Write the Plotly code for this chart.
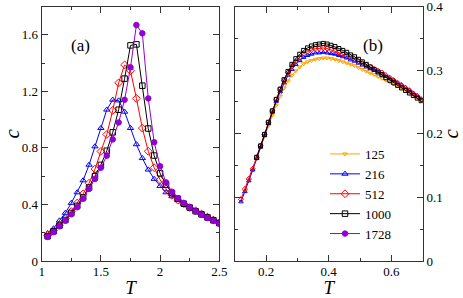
import plotly.graph_objects as go

# ---------------- panel (a) data ----------------
T_a = [1.05, 1.10, 1.15, 1.20, 1.25, 1.30, 1.35, 1.40, 1.45, 1.50,
       1.55, 1.60, 1.65, 1.70, 1.75, 1.80, 1.85, 1.90, 1.95, 2.00,
       2.05, 2.10, 2.15, 2.20, 2.25, 2.30, 2.35, 2.40, 2.45, 2.50]
c_a_216 = [0.196, 0.230, 0.286, 0.340, 0.410, 0.485, 0.570, 0.680, 0.810, 0.940,
           1.070, 1.140, 1.135, 1.055, 0.940, 0.825, 0.727, 0.646, 0.580, 0.530,
           0.485, 0.457, 0.430, 0.405, 0.380, 0.357, 0.335, 0.315, 0.295, 0.275]
c_a_512 = [0.180, 0.215, 0.255, 0.300, 0.350, 0.410, 0.475, 0.550, 0.650, 0.775,
           0.895, 1.065, 1.260, 1.387, 1.345, 1.150, 0.940, 0.776, 0.660, 0.575,
           0.510, 0.465, 0.430, 0.405, 0.378, 0.355, 0.332, 0.310, 0.290, 0.270]
c_a_1000 = [0.175, 0.210, 0.250, 0.290, 0.340, 0.390, 0.450, 0.520, 0.600, 0.680,
            0.780, 0.910, 1.070, 1.290, 1.525, 1.532, 1.240, 0.937, 0.746, 0.620,
            0.540, 0.480, 0.440, 0.405, 0.378, 0.352, 0.330, 0.308, 0.288, 0.268]
c_a_1728 = [0.170, 0.205, 0.245, 0.285, 0.330, 0.380, 0.440, 0.510, 0.580, 0.660,
            0.745, 0.860, 0.980, 1.140, 1.370, 1.669, 1.610, 1.150, 0.840, 0.670,
            0.556, 0.490, 0.445, 0.410, 0.380, 0.352, 0.328, 0.305, 0.285, 0.265]

# ---------------- panel (b) data ----------------
T_b = [0.12, 0.1325, 0.145, 0.1575, 0.17, 0.1825, 0.195, 0.2075, 0.22, 0.2325,
       0.245, 0.2575, 0.27, 0.2825, 0.295, 0.3075, 0.32, 0.3325, 0.345, 0.3575,
       0.37, 0.3825, 0.395, 0.4075, 0.42, 0.4325, 0.445, 0.4575, 0.47, 0.4825,
       0.495, 0.5075, 0.52, 0.5325, 0.545, 0.5575, 0.57, 0.5825, 0.595, 0.6075,
       0.62, 0.6325, 0.645, 0.6575, 0.67, 0.6825, 0.695]
c_b_125 = [None, 0.110, 0.127, 0.143, 0.160, 0.178, 0.196, 0.213, 0.229, 0.245,
           0.259, 0.272, 0.283, 0.292, 0.299, 0.305, 0.310, 0.313, 0.315, 0.317,
           0.318, 0.319, 0.319, 0.318, 0.317, 0.315, 0.313, 0.311, 0.309, 0.307,
           0.304, 0.301, 0.298, 0.295, 0.293, 0.290, 0.287, 0.284, 0.281, 0.278,
           0.275, 0.272, 0.269, 0.265, 0.261, 0.257, 0.253]
c_b_216 = [0.093, 0.109, 0.126, 0.143, 0.161, 0.179, 0.197, 0.216, 0.234, 0.251,
           0.266, 0.280, 0.292, 0.301, 0.309, 0.315, 0.320, 0.323, 0.325, 0.327,
           0.327, 0.328, 0.327, 0.326, 0.325, 0.323, 0.321, 0.319, 0.316, 0.314,
           0.311, 0.308, 0.305, 0.302, 0.300, 0.297, 0.294, 0.290, 0.287, 0.284,
           0.280, 0.277, 0.273, 0.269, 0.264, 0.260, 0.255]
c_b_512 = [0.097, 0.113, 0.129, 0.145, 0.163, 0.181, 0.199, 0.218, 0.236, 0.254,
           0.270, 0.284, 0.296, 0.306, 0.314, 0.320, 0.326, 0.329, 0.332, 0.334,
           0.334, 0.335, 0.334, 0.332, 0.330, 0.328, 0.325, 0.323, 0.320, 0.317,
           0.314, 0.311, 0.308, 0.305, 0.302, 0.299, 0.296, 0.292, 0.288, 0.284,
           0.280, 0.276, 0.272, 0.268, 0.263, 0.259, 0.254]
c_b_1000 = [None, None, None, None, 0.163, 0.181, 0.199, 0.218, 0.236, 0.254,
            0.270, 0.285, 0.298, 0.309, 0.318, 0.325, 0.331, 0.335, 0.338, 0.340,
            0.341, 0.342, 0.341, 0.339, 0.337, 0.334, 0.331, 0.328, 0.324, 0.321,
            0.317, 0.313, 0.309, 0.305, 0.301, 0.297, 0.293, 0.288, 0.284, 0.280,
            0.276, 0.272, 0.268, 0.264, 0.260, 0.256, 0.252]

x_ticks_a = [1, 1.5, 2, 2.5]
x_ticktext_a = ["1", "1.5", "2", "2.5"]
y_ticks_a = [0, 0.4, 0.8, 1.2, 1.6]
y_ticktext_a = ["0", "0.4", "0.8", "1.2", "1.6"]
x_ticks_b = [0.2, 0.4, 0.6]
x_ticktext_b = ["0.2", "0.4", "0.6"]
y_ticks_b = [0, 0.1, 0.2, 0.3, 0.4]
y_ticktext_b = ["0", "0.1", "0.2", "0.3", "0.4"]

ORANGE = "#FFA500"
BLUE = "#0000FF"
RED = "#FF0000"
BLACK = "#000000"
PURPLE = "#9400D3"
FONT = "Liberation Serif, Times New Roman, serif"

fig = go.Figure()

def add(x, y, name, color, symbol, size, xa, ya, show, filled=False):
    fig.add_trace(go.Scatter(
        x=x, y=y, name=name, mode="lines+markers",
        line=dict(color=color, width=1),
        marker=dict(symbol=symbol if filled else symbol + "-open", size=size,
                    color=color, line=dict(color=color, width=1)),
        xaxis=xa, yaxis=ya, legendgroup=name, showlegend=show,
    ))

# legend order: 125, 216, 512, 1000, 1728
add(T_b, c_b_125, "125", ORANGE, "triangle-down", 4, "x2", "y2", True)
add(T_a, c_a_216, "216", BLUE, "triangle-up", 5.5, "x", "y", True)
add(T_a, c_a_512, "512", RED, "diamond", 6, "x", "y", True)
add(T_a, c_a_1000, "1000", BLACK, "square", 5.5, "x", "y", True)
add(T_a, c_a_1728, "1728", PURPLE, "circle", 5.5, "x", "y", True, filled=True)
add(T_b, c_b_216, "216", BLUE, "triangle-up", 4, "x2", "y2", False)
add(T_b, c_b_512, "512", RED, "diamond", 4, "x2", "y2", False)
add(T_b, c_b_1000, "1000", BLACK, "square", 4, "x2", "y2", False)

W, H = 463, 298
ax_common = dict(showline=True, linecolor="#333333", linewidth=1.2, mirror="ticks",
                 ticks="inside", ticklen=6, tickwidth=1.2, tickcolor="#333333",
                 showgrid=False, zeroline=False, automargin=False,
                 ticklabeloverflow="allow",
                 tickfont=dict(family=FONT, size=13, color="black"))

fig.update_layout(
    width=W, height=H,
    margin=dict(l=0, r=0, t=0, b=0),
    paper_bgcolor="white", plot_bgcolor="white",
    font=dict(family=FONT, color="black"),
    xaxis=dict(domain=[41.7 / W, 219.3 / W], range=[1, 2.5], anchor="y",
               tickvals=x_ticks_a, ticktext=x_ticktext_a, ticklabelstandoff=-2,
               minor=dict(dtick=0.25, ticks="inside", ticklen=3, tickcolor="#333333"),
               title=dict(text="<i>T</i>", font=dict(family=FONT, size=19), standoff=2),
               **ax_common),
    yaxis=dict(domain=[(H - 261) / H, (H - 6.5) / H], range=[0, 1.8], anchor="x",
               tickvals=y_ticks_a, ticktext=y_ticktext_a,
               minor=dict(dtick=0.2, ticks="inside", ticklen=3, tickcolor="#333333"),
               title=dict(text="<i>c</i>", font=dict(family=FONT, size=21), standoff=6),
               **ax_common),
    xaxis2=dict(domain=[234.7 / W, 422.7 / W], range=[0.1, 0.7], anchor="y2",
                tickvals=x_ticks_b, ticktext=x_ticktext_b, ticklabelstandoff=-2,
                minor=dict(dtick=0.1, tick0=0.1, ticks="inside", ticklen=3, tickcolor="#333333"),
                title=dict(text="<i>T</i>", font=dict(family=FONT, size=19), standoff=2),
                **ax_common),
    yaxis2=dict(domain=[(H - 261) / H, (H - 6.5) / H], range=[0, 0.4], anchor="x2",
                side="right",
                tickvals=y_ticks_b, ticktext=y_ticktext_b,
                minor=dict(dtick=0.05, ticks="inside", ticklen=3, tickcolor="#333333"),
                title=dict(text="<i>c</i>", font=dict(family=FONT, size=21), standoff=6),
                **ax_common),
    legend=dict(x=325 / W, y=(H - 139) / H, xanchor="left", yanchor="top",
                bgcolor="rgba(0,0,0,0)", borderwidth=0,
                font=dict(family=FONT, size=13, color="black"),
                tracegroupgap=0, itemwidth=30),
    annotations=[
        dict(text="(a)", x=69 / W, y=(H - 34) / H, xref="paper", yref="paper",
             showarrow=False, font=dict(family=FONT, size=17)),
        dict(text="(b)", x=385 / W, y=(H - 34) / H, xref="paper", yref="paper",
             showarrow=False, font=dict(family=FONT, size=17)),
    ],
)

fig.write_html("out.html", config={"displayModeBar": False},
               post_script="document.body.style.margin='0px';")
